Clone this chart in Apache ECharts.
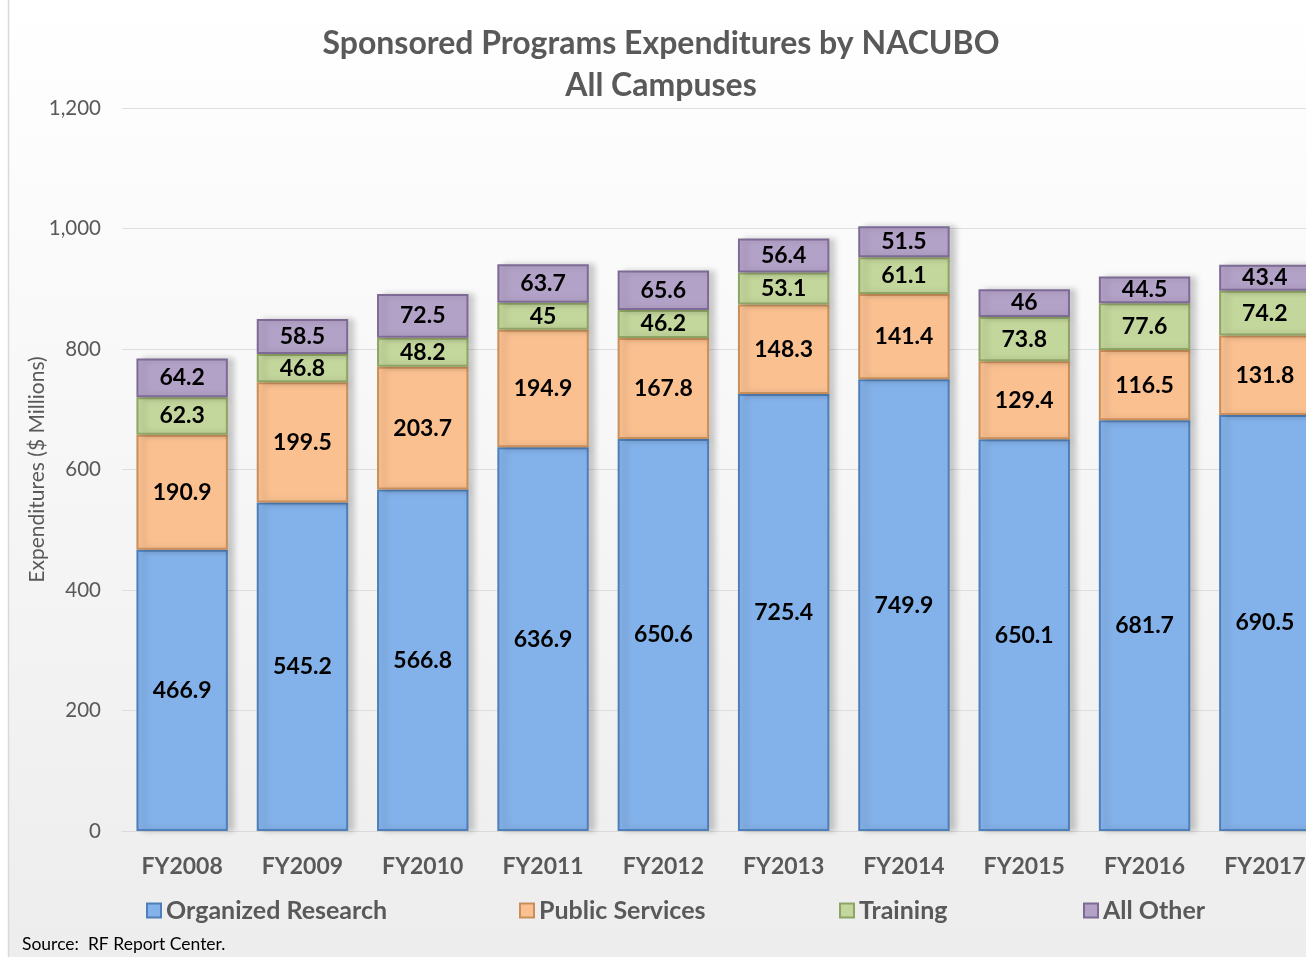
<!DOCTYPE html>
<html>
<head>
<meta charset="utf-8">
<script src="https://cdn.jsdelivr.net/npm/echarts@6/dist/echarts.min.js"></script>
<style>
  html, body { margin: 0; padding: 0; background: #fff; }
  #main { width: 1306px; height: 957px; }
</style>
</head>
<body>
<div id="main"></div>
<script>
var years = ['FY2008', 'FY2009', 'FY2010', 'FY2011', 'FY2012', 'FY2013', 'FY2014', 'FY2015', 'FY2016', 'FY2017']
var organizedResearch = [466.9, 545.2, 566.8, 636.9, 650.6, 725.4, 749.9, 650.1, 681.7, 690.5]
var publicServices = [190.9, 199.5, 203.7, 194.9, 167.8, 148.3, 141.4, 129.4, 116.5, 131.8]
var training = [62.3, 46.8, 48.2, 45, 46.2, 53.1, 61.1, 73.8, 77.6, 74.2]
var allOther = [64.2, 58.5, 72.5, 63.7, 65.6, 56.4, 51.5, 46, 44.5, 43.4]

var font = 'Lato, "Open Sans", sans-serif'
var gray = '#595959'

function makeSeries (name, data, color, edge) {
  return {
    name: name,
    type: 'bar',
    stack: 'total',
    data: data,
    barWidth: '76%',
    itemStyle: {
      color: color,
      borderColor: edge,
      borderWidth: 2,
      shadowColor: 'rgba(0,0,0,0.18)',
      shadowBlur: 6,
      shadowOffsetX: 6,
      shadowOffsetY: 0
    },
    label: {
      show: true,
      position: 'inside',
      color: '#000',
      fontFamily: font,
      fontWeight: 'bold',
      fontSize: 23
    }
  }
}

var legendBase = {
  top: 893,
  itemWidth: 14,
  itemHeight: 14,
  itemGap: 6,
  icon: 'rect',
  textStyle: { fontFamily: font, fontWeight: 'bold', fontSize: 25, color: gray }
}

var chart = echarts.init(document.getElementById('main'))
chart.setOption({
  animation: false,
  backgroundColor: {
    type: 'linear', x: 0, y: 0, x2: 0, y2: 1,
    colorStops: [{ offset: 0, color: '#ffffff' }, { offset: 1, color: '#ededed' }]
  },
  title: {
    text: 'Sponsored Programs Expenditures by NACUBO\nAll Campuses',
    left: 656,
    textAlign: 'center',
    top: 18,
    textStyle: { fontFamily: font, fontWeight: 'bold', fontSize: 32, color: gray, lineHeight: 42 }
  },
  graphic: [
    { type: 'rect', shape: { x: 0, y: 0, width: 8, height: 957 }, style: { fill: '#ffffff' } },
    { type: 'line', shape: { x1: 8.5, y1: 0, x2: 8.5, y2: 957 }, style: { stroke: '#d9d9d9', lineWidth: 1.5 } },
    {
      type: 'text', left: 22, top: 935,
      style: { text: 'Source:  RF Report Center.', font: '17.5px ' + font, fill: '#000' }
    }
  ],
  legend: [
    Object.assign({ data: ['Organized Research'], left: 141 }, legendBase),
    Object.assign({ data: ['Public Services'], left: 514 }, legendBase),
    Object.assign({ data: ['Training'], left: 834 }, legendBase),
    Object.assign({ data: ['All Other'], left: 1078 }, legendBase)
  ],
  grid: { left: 122, top: 108, width: 1203, height: 723, outerBoundsMode: 'none' },
  xAxis: {
    type: 'category',
    data: years,
    axisTick: { show: false },
    axisLine: { lineStyle: { color: '#d9d9d9' } },
    axisLabel: { fontFamily: font, fontWeight: 'bold', fontSize: 23, color: gray, margin: 24 }
  },
  yAxis: {
    type: 'value',
    min: 0,
    max: 1200,
    interval: 200,
    name: 'Expenditures ($ Millions)',
    nameLocation: 'middle',
    nameGap: 74,
    nameMoveOverlap: false,
    nameTextStyle: { fontFamily: font, fontSize: 21, color: gray },
    axisLabel: {
      fontFamily: font, fontSize: 20.5, color: gray, margin: 21,
      formatter: function (v) { return v.toLocaleString('en-US') }
    },
    splitLine: { lineStyle: { color: '#dedede' } }
  },
  series: [
    makeSeries('Organized Research', organizedResearch, '#83b1e9', '#4f7fb8'),
    makeSeries('Public Services', publicServices, '#fac090', '#c98f5a'),
    makeSeries('Training', training, '#c3d69b', '#8ea464'),
    makeSeries('All Other', allOther, '#b3a2c7', '#7d6b95')
  ]
})
</script>
</body>
</html>
